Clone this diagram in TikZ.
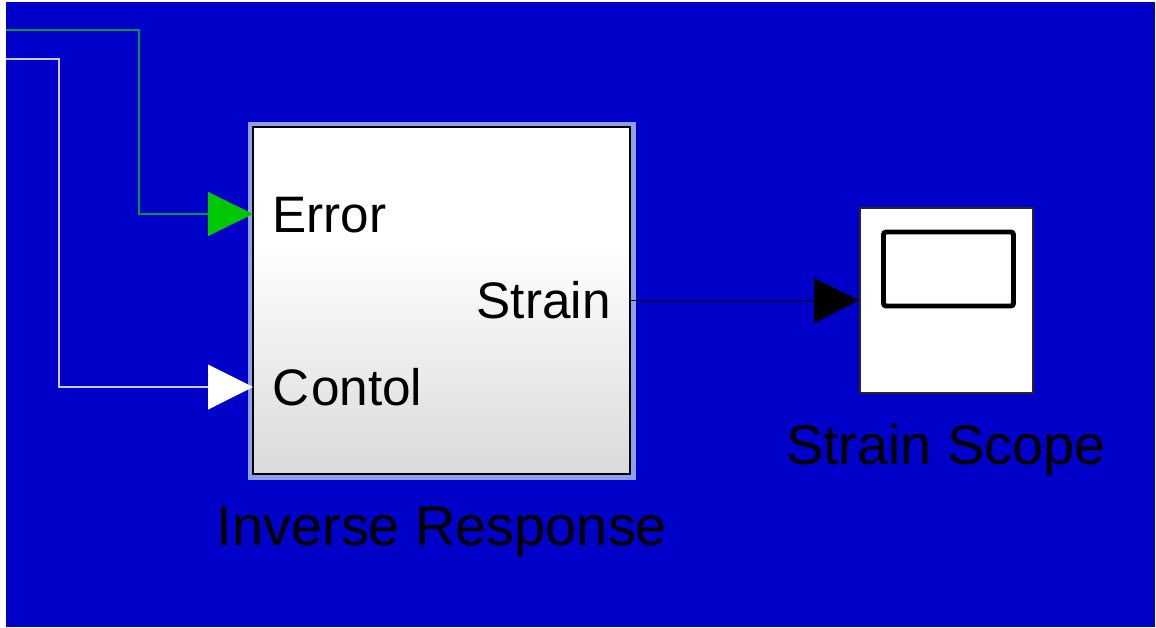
\documentclass[tikz,border=0pt]{standalone}
\usepackage{fontspec}
\setmainfont{Liberation Sans}
\usetikzlibrary{arrows.meta}
\definecolor{bgblue}{RGB}{0,0,200}
\definecolor{hlblue}{RGB}{140,160,240}
\definecolor{wiregreen}{RGB}{0,150,70}
\definecolor{tipgreen}{RGB}{0,200,0}
\definecolor{wirewhite}{RGB}{200,200,255}
\definecolor{blkgray}{RGB}{218,218,218}
\pgfdeclareverticalshading{blockshade}{100bp}{color(0bp)=(blkgray); color(25bp)=(blkgray); color(58bp)=(white); color(100bp)=(white)}
\tikzset{
  px/.style={x=0.02cm,y=-0.02cm},
  blockbox/.style={draw=black,line width=1.2pt,shading=blockshade,inner sep=0pt,minimum width=7.54cm,minimum height=6.94cm},
  highlight/.style={fill=hlblue,draw=none,inner sep=0pt,minimum width=7.76cm,minimum height=7.16cm},
  scopebox/.style={draw=black!85,fill=white,line width=1.1pt,inner sep=0pt,minimum width=3.46cm,minimum height=3.70cm},
  porttext/.style={font=\fontsize{29.2}{30}\selectfont,inner sep=0pt,text=black},
  labeltext/.style={font=\fontsize{31.8}{34}\selectfont,inner sep=0pt,text=black},
  wire/.style={line width=0.6pt},
  greentip/.style={-{Triangle[length=0.9cm,width=0.88cm,color=tipgreen]}},
  whitetip/.style={-{Triangle[length=0.9cm,width=0.9cm,color=white]}},
  blacktip/.style={-{Triangle[length=0.9cm,width=0.9cm,color=black]}},
}
\begin{document}
\begin{tikzpicture}[px]
\useasboundingbox (0,0) rectangle (1156,627);
\fill[white] (0,0) rectangle (1156,627);
\fill[bgblue] (6,2) rectangle (1155,627);

% Inverse Response block
\node[highlight] (irhl) at (442,301) {};
\node[blockbox] (ir) at (441.5,300.5) {};
\node[porttext,anchor=base west] (terr) at (272,232) {Error};
\node[porttext,anchor=base west] (tctl) at (272,405) {C\kern1pt ontol};
\node[porttext,anchor=base east] (tstr) at (611,318) {Strain};
\node[labeltext,anchor=base] (lir) at (442,545) {Inverse Response};

% Scope block
\node[scopebox] (sc) at (946.5,300.5) {};
\node[draw=black,line width=2.8pt,rounded corners=1.5pt,inner sep=0pt,minimum width=2.6cm,minimum height=1.48cm] (scr) at (948.5,269) {};
\node[labeltext,anchor=base] (lsc) at (946,464) {Strain Scope};

% wires
\coordinate (gsrc) at (6,30);
\coordinate (gx) at (139,0);
\coordinate (errin) at (253,214);
\coordinate (wsrc) at (6,59);
\coordinate (wx) at (59,0);
\coordinate (ctlin) at (253,387);

\draw[wire,wiregreen,greentip] (gsrc) -- (gsrc -| gx) |- (errin);
\draw[wire,wirewhite,whitetip] (wsrc) -- (wsrc -| wx) |- (ctlin);
\draw[wire,black,blacktip] (ir.east) -- (sc.west);
\end{tikzpicture}
\end{document}
